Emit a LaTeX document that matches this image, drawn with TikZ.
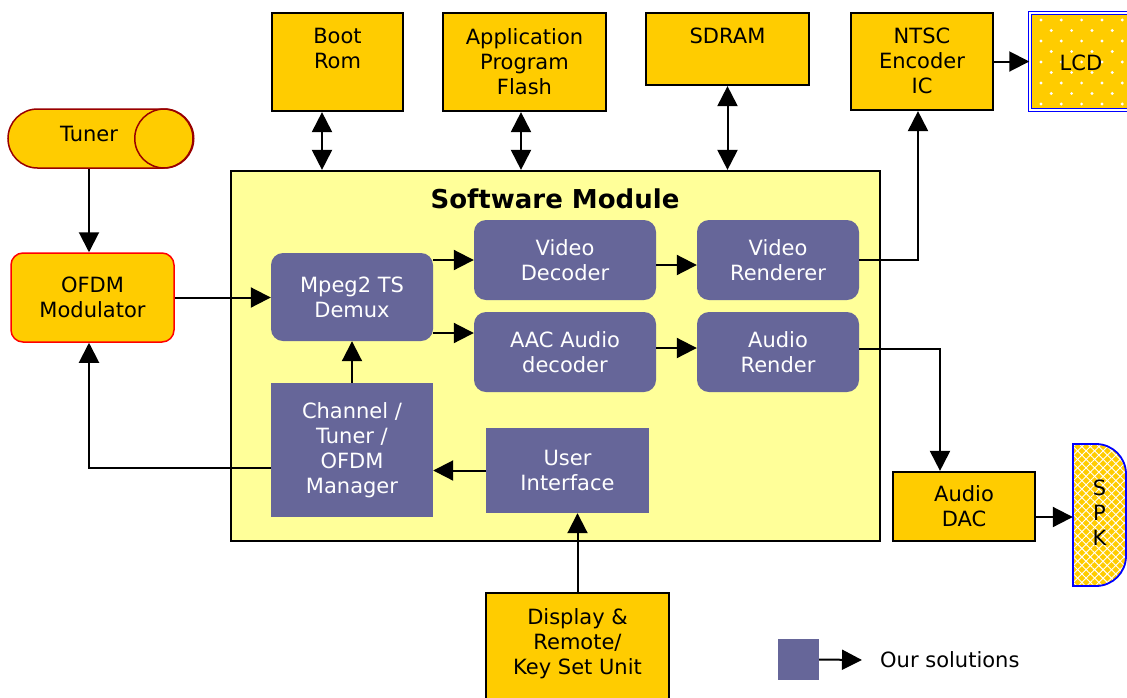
\documentclass[tikz,border=0pt]{standalone}
\usepackage{fontspec}
\setmainfont{DejaVu Sans}
\usepackage{xcolor}
\usepackage{tikz}
\usetikzlibrary{positioning}
\usetikzlibrary{arrows.meta}
\usetikzlibrary{shapes.misc}
\usetikzlibrary{patterns.meta}

\definecolor{hwyellow}{HTML}{FFCC00}
\definecolor{swpurple}{HTML}{666699}
\definecolor{swback}{HTML}{FFFF99}
\definecolor{tunerred}{HTML}{990000}

\begin{document}
\begin{tikzpicture}[x=1pt, y=-1pt,
    every node/.style={font=\fontsize{21}{25}\selectfont, align=center},
    hw/.style={draw=black, line width=2.2pt, fill=hwyellow, inner sep=0pt},
    hwtext/.style={anchor=north, inner sep=0pt, yshift=-16pt},
    sw/.style={fill=swpurple, text=white, rounded corners=12pt, inner sep=0pt},
    swsq/.style={fill=swpurple, text=white, inner sep=0pt},
    conn/.style={line width=2pt, -{Triangle[length=20pt, width=20pt]}},
    biconn/.style={line width=2pt, {Triangle[length=20pt, width=20pt]}-{Triangle[length=20pt, width=20pt]}}]
    \useasboundingbox (0,0) rectangle (1127,697);

    % software module
    \node[draw=black, line width=2.2pt, fill=swback, minimum width=649pt, minimum height=370pt] (sm) at (555.5,356) {};
    \node[font=\fontsize{26}{31}\selectfont\bfseries] (smtitle) at (555,199) {Software Module};

    \node[sw, minimum width=162pt, minimum height=88pt] (demux) at (352,297) {Mpeg2 TS\\Demux};
    \node[sw, minimum width=182pt, minimum height=80pt] (vdec) at (565,260) {Video\\Decoder};
    \node[sw, minimum width=182pt, minimum height=80pt] (adec) at (565,352) {AAC Audio\\decoder};
    \node[sw, minimum width=162pt, minimum height=80pt] (vren) at (778,260) {Video\\Renderer};
    \node[sw, minimum width=162pt, minimum height=80pt] (aren) at (778,352) {Audio\\Render};
    \node[swsq, minimum width=162pt, minimum height=134pt] (mgr) at (352,450) {Channel /\\Tuner /\\OFDM\\Manager};
    \node[swsq, minimum width=163pt, minimum height=85pt] (ui) at (567.5,470.5) {User\\Interface};

    % hardware
    \node[hw, minimum width=131pt, minimum height=98pt] (boot) at (337.5,62) {};
    \node[hwtext] (boottext) at (boot.north) {Boot\\Rom};
    \node[hw, minimum width=163pt, minimum height=98pt] (flash) at (524.5,62) {};
    \node[hwtext] (flashtext) at (flash.north) {Application\\Program\\Flash};
    \node[hw, minimum width=163pt, minimum height=72pt] (sdram) at (727.5,49) {};
    \node[hwtext] (sdramtext) at (sdram.north) {SDRAM};
    \node[hw, minimum width=142pt, minimum height=97pt] (ntsc) at (922,61.5) {};
    \node[hwtext] (ntsctext) at (ntsc.north) {NTSC\\Encoder\\IC};
    \node[hw, minimum width=183pt, minimum height=112pt] (disp) at (577.5,649) {};
    \node[hwtext] (disptext) at (disp.north) {Display \&\\Remote/\\Key Set Unit};
    \node[hw, minimum width=142pt, minimum height=69pt] (dac) at (964,506.5) {Audio\\DAC};

    \node[draw=red, line width=1.5pt, fill=hwyellow, rounded corners=12pt, minimum width=163pt, minimum height=89pt, inner sep=0pt] (ofdm) at (92.5,297.5) {OFDM\\Modulator};

    % tuner
    \node[rounded rectangle, draw=tunerred, line width=1.5pt, fill=hwyellow, minimum width=185pt, minimum height=59pt, inner sep=0pt] (tuner) at (100.5,138.5) {};
    \draw[draw=tunerred, line width=1.5pt] ([xshift=-29.5pt]tuner.east) circle[radius=29.5];
    \node (tunertext) at (89,134) {Tuner};

    % lcd
    \node[draw=blue, double=white, double distance=1.2pt, line width=1.5pt, fill=hwyellow, minimum width=105pt, minimum height=97pt] (lcd) at (1082.5,61.5) {};
    \foreach \r in {0,...,8} {
        \pgfmathsetmacro{\dx}{1041+10.3*mod(\r,2)}
        \foreach \c in {0,...,4}
            \fill[white] (\dx+20.3*\c, 20+10.5*\r) circle[radius=1.6];
    }
    \node (lcdtext) at (1081,63) {LCD};

    % speaker
    \fill[hwyellow] (1073,444) -- (1096,444) arc[start angle=-90, end angle=0, radius=30] -- (1126,556) arc[start angle=0, end angle=90, radius=30] -- (1073,586) -- cycle;
    \fill[pattern={Lines[angle=45, distance=6pt, line width=0.9pt]}, pattern color=white] (1073,444) -- (1096,444) arc[start angle=-90, end angle=0, radius=30] -- (1126,556) arc[start angle=0, end angle=90, radius=30] -- (1073,586) -- cycle;
    \fill[pattern={Lines[angle=-45, distance=6pt, line width=0.9pt]}, pattern color=white] (1073,444) -- (1096,444) arc[start angle=-90, end angle=0, radius=30] -- (1126,556) arc[start angle=0, end angle=90, radius=30] -- (1073,586) -- cycle;
    \draw[blue, line width=1.8pt] (1073,444) -- (1096,444) arc[start angle=-90, end angle=0, radius=30] -- (1126,556) arc[start angle=0, end angle=90, radius=30] -- (1073,586) -- cycle;
    \node[minimum width=53pt, minimum height=142pt, inner sep=0pt] (spk) at (1099.5,513) {S\\P\\K};

    % connectors
    \draw[biconn] ([xshift=-15.5pt]boot.south) -- ([xshift=-15.5pt]boot.south |- sm.north);
    \draw[biconn] ([xshift=-3.5pt]flash.south) -- ([xshift=-3.5pt]flash.south |- sm.north);
    \draw[biconn] (sdram.south) -- (sdram.south |- sm.north);
    \draw[conn] (vren.east) -| ([xshift=-4pt]ntsc.south);
    \draw[conn] (ntsc.east) -- (lcd.west);
    \draw[conn] ([xshift=-3.5pt]ofdm.north |- tuner.south) -- ([xshift=-3.5pt]ofdm.north);
    \draw[conn] (ofdm.east) -- (ofdm.east -| demux.west);
    \draw[conn] ([yshift=-18pt]mgr.west) -| ([xshift=-3.5pt]ofdm.south);
    \draw[conn] (ui.west) -- (ui.west -| mgr.east);
    \draw[conn] (mgr.north) -- (demux.south);
    \draw[conn] (demux.east |- vdec.west) -- (vdec.west);
    \coordinate (adecin) at ([yshift=19pt]adec.west);
    \draw[conn] (demux.east |- adecin) -- (adecin);
    \coordinate (vdecout) at ([yshift=-5pt]vdec.east);
    \draw[conn] (vdecout) -- (vdecout -| vren.west);
    \coordinate (adecout) at ([yshift=4pt]adec.east);
    \draw[conn] (adecout) -- (adecout -| aren.west);
    \coordinate (arenout) at ([yshift=3pt]aren.east);
    \draw[conn] (arenout) -| ([xshift=-24pt]dac.north);
    \coordinate (dacout) at ([yshift=-10.5pt]dac.east);
    \draw[conn] (dacout) -- (dacout -| spk.west);
    \draw[conn] (disp.north) -- (disp.north |- ui.south);

    % legend
    \node[swsq, minimum size=41pt] (legbox) at (798.5,659.5) {};
    \node[anchor=west, inner sep=0pt] (legtext) at (880,660) {Our solutions};
    \coordinate (legtip) at (862,660);
    \draw[conn] (legbox.east) -- (legtip);
\end{tikzpicture}
\end{document}
